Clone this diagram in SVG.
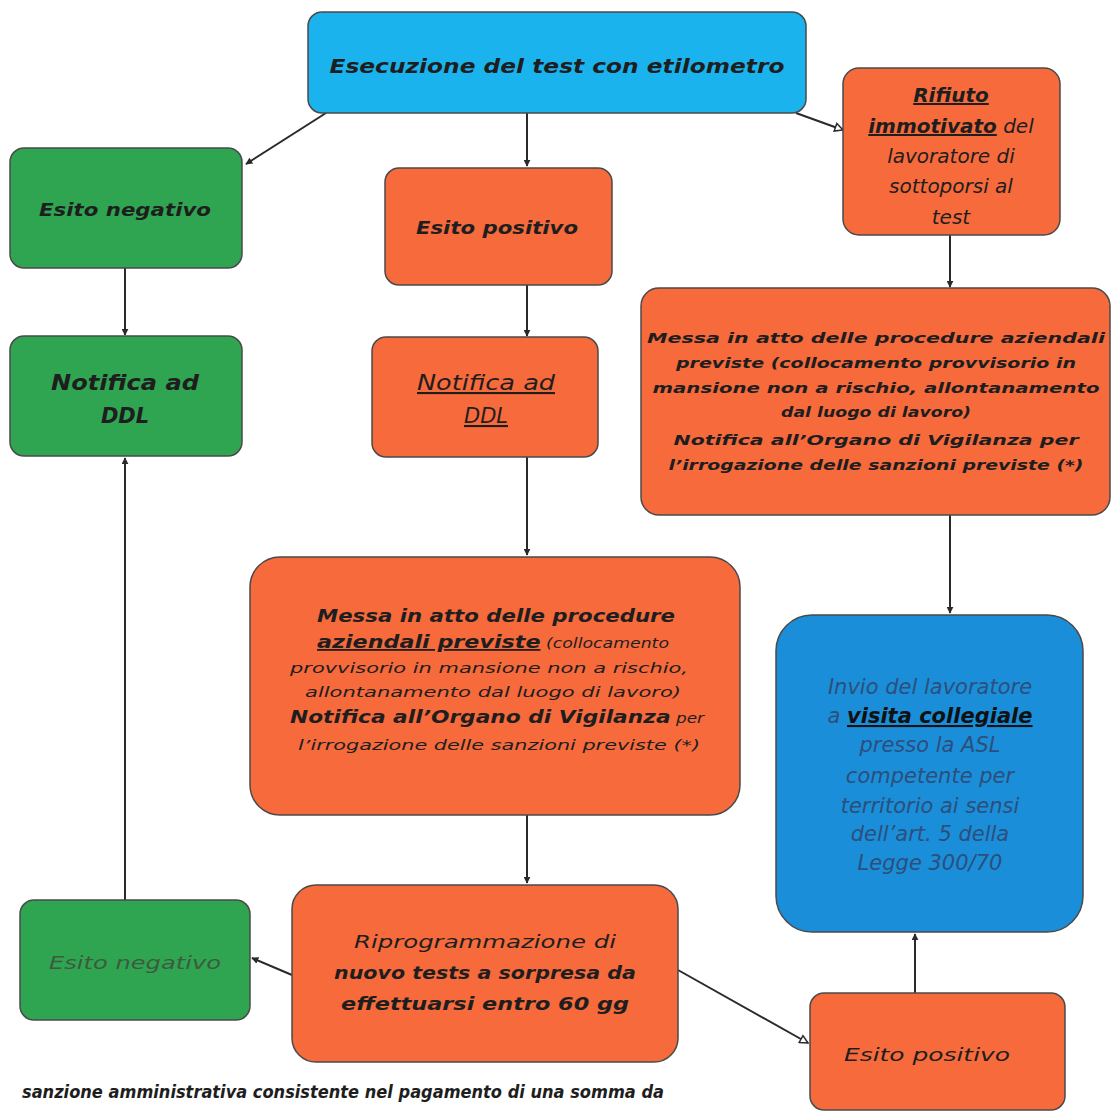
<svg xmlns="http://www.w3.org/2000/svg" width="1119" height="1113" viewBox="0 0 1119 1113">
<defs>
<style>
.n{stroke:#4a4a4a;stroke-width:1.5}
.or{fill:#f66a3c}
.gr{fill:#2fa552}
.bl{fill:#1ab3ee}
.bd{fill:#1a8ed8}
text{font-family:"DejaVu Sans","Liberation Sans",sans-serif;font-style:italic;text-anchor:middle;fill:#1e1e1e}
.b{font-weight:bold}
.u{text-decoration:underline}
.c{stroke:#2a2a2a;stroke-width:2;fill:none}
</style>
<marker id="af" viewBox="0 0 10 10" refX="9" refY="5" markerWidth="7" markerHeight="7" orient="auto" markerUnits="userSpaceOnUse">
<path d="M0,0 L10,5 L0,10 z" fill="#2a2a2a"/>
</marker>
<marker id="ao" viewBox="0 0 10 10" refX="9" refY="5" markerWidth="10" markerHeight="10" orient="auto" markerUnits="userSpaceOnUse">
<path d="M1,1 L9,5 L1,9 z" fill="#fff" stroke="#2a2a2a" stroke-width="1.5"/>
</marker>
</defs>
<rect width="1119" height="1113" fill="#fff"/>

<g id="connectors">
<line class="c" x1="326" y1="113" x2="246" y2="164" marker-end="url(#af)"/>
<line class="c" x1="527" y1="113" x2="527" y2="166" marker-end="url(#af)"/>
<line class="c" x1="796" y1="113" x2="843" y2="130" marker-end="url(#ao)"/>
<line class="c" x1="125" y1="268" x2="125" y2="335" marker-end="url(#af)"/>
<line class="c" x1="527" y1="285" x2="527" y2="336" marker-end="url(#af)"/>
<line class="c" x1="527" y1="457" x2="527" y2="555" marker-end="url(#af)"/>
<line class="c" x1="950" y1="235" x2="950" y2="287" marker-end="url(#af)"/>
<line class="c" x1="950" y1="515" x2="950" y2="613" marker-end="url(#af)"/>
<line class="c" x1="527" y1="815" x2="527" y2="883" marker-end="url(#af)"/>
<line class="c" x1="292" y1="975" x2="252" y2="958" marker-end="url(#af)"/>
<line class="c" x1="678" y1="970" x2="808" y2="1043" marker-end="url(#ao)"/>
<line class="c" x1="915" y1="993" x2="915" y2="934" marker-end="url(#af)"/>
<line class="c" x1="125" y1="900" x2="125" y2="458" marker-end="url(#af)"/>
</g>

<g id="n-test">
<rect class="n bl" x="308" y="12" width="498" height="101" rx="14"/>
<text x="557" y="73" font-size="20" class="b" textLength="455" lengthAdjust="spacingAndGlyphs">Esecuzione del test con etilometro</text>
</g>

<g id="n-neg1">
<rect class="n gr" x="10" y="148" width="232" height="120" rx="14"/>
<text x="125" y="216" font-size="18" class="b" textLength="172" lengthAdjust="spacingAndGlyphs">Esito negativo</text>
</g>

<g id="n-notg">
<rect class="n gr" x="10" y="336" width="232" height="120" rx="14"/>
<text x="125" y="390" font-size="21" class="b" textLength="148" lengthAdjust="spacingAndGlyphs">Notifica ad</text>
<text x="125" y="423" font-size="21" class="b">DDL</text>
</g>

<g id="n-pos1">
<rect class="n or" x="385" y="168" width="227" height="117" rx="14"/>
<text x="497" y="234" font-size="18" class="b" textLength="162" lengthAdjust="spacingAndGlyphs">Esito positivo</text>
</g>

<g id="n-noto">
<rect class="n or" x="372" y="337" width="226" height="120" rx="14"/>
<text x="486" y="390" font-size="21" class="u" textLength="138" lengthAdjust="spacingAndGlyphs">Notifica ad</text>
<text x="486" y="423" font-size="21" class="u">DDL</text>
</g>

<g id="n-rif">
<rect class="n or" x="843" y="68" width="217" height="167" rx="16"/>
<text x="951" y="102" font-size="20"><tspan class="b u">Rifiuto</tspan></text>
<text x="951" y="133" font-size="20"><tspan class="b u">immotivato</tspan> del</text>
<text x="951" y="163" font-size="20">lavoratore di</text>
<text x="951" y="193" font-size="20">sottoporsi al</text>
<text x="951" y="224" font-size="20">test</text>
</g>

<g id="n-messa2">
<rect class="n or" x="641" y="288" width="469" height="227" rx="18"/>
<g font-size="14" class="b">
<text x="876" y="343" textLength="458" lengthAdjust="spacingAndGlyphs">Messa in atto delle procedure aziendali</text>
<text x="876" y="368" textLength="400" lengthAdjust="spacingAndGlyphs">previste (collocamento provvisorio in</text>
<text x="876" y="393" textLength="447" lengthAdjust="spacingAndGlyphs">mansione non a rischio, allontanamento</text>
<text x="876" y="417" textLength="190" lengthAdjust="spacingAndGlyphs">dal luogo di lavoro)</text>
<text x="876" y="445" textLength="405" lengthAdjust="spacingAndGlyphs">Notifica all’Organo di Vigilanza per</text>
<text x="876" y="470" textLength="415" lengthAdjust="spacingAndGlyphs">l’irrogazione delle sanzioni previste (*)</text>
</g>
</g>

<g id="n-messa1">
<rect class="n or" x="250" y="557" width="490" height="258" rx="30"/>
<text x="496" y="622" font-size="18" class="b" textLength="358" lengthAdjust="spacingAndGlyphs">Messa in atto delle procedure</text>
<text x="493" y="648" font-size="18" textLength="352" lengthAdjust="spacingAndGlyphs"><tspan class="b u">aziendali previste</tspan><tspan font-size="14"> (collocamento</tspan></text>
<text x="489" y="673" font-size="14" textLength="398" lengthAdjust="spacingAndGlyphs">provvisorio in mansione non a rischio,</text>
<text x="493" y="697" font-size="14" textLength="376" lengthAdjust="spacingAndGlyphs">allontanamento dal luogo di lavoro)</text>
<text x="497" y="723" font-size="18" textLength="414" lengthAdjust="spacingAndGlyphs"><tspan class="b">Notifica all’Organo di Vigilanza</tspan><tspan font-size="14"> per</tspan></text>
<text x="499" y="750" font-size="14" textLength="402" lengthAdjust="spacingAndGlyphs">l’irrogazione delle sanzioni previste (*)</text>
</g>

<g id="n-invio">
<rect class="n bd" x="776" y="615" width="307" height="317" rx="36"/>
<g font-size="21">
<text x="930" y="694" style="fill:#2c4f7c">Invio del lavoratore</text>
<text x="930" y="723" style="fill:#2c4f7c">a <tspan class="b u" style="fill:#111">visita collegiale</tspan></text>
<text x="930" y="752" style="fill:#2c4f7c">presso la ASL</text>
<text x="930" y="783" style="fill:#2c4f7c">competente per</text>
<text x="930" y="813" style="fill:#2c4f7c">territorio ai sensi</text>
<text x="930" y="841" style="fill:#2c4f7c">dell’art. 5 della</text>
<text x="930" y="870" style="fill:#2c4f7c">Legge 300/70</text>
</g>
</g>

<g id="n-neg2">
<rect class="n gr" x="20" y="900" width="230" height="120" rx="14"/>
<text x="135" y="969" font-size="17" style="fill:#3d5a3f" textLength="172" lengthAdjust="spacingAndGlyphs">Esito negativo</text>
</g>

<g id="n-riprog">
<rect class="n or" x="292" y="885" width="386" height="177" rx="24"/>
<text x="485" y="948" font-size="18" textLength="262" lengthAdjust="spacingAndGlyphs">Riprogrammazione di</text>
<text x="485" y="979" font-size="18" class="b" textLength="302" lengthAdjust="spacingAndGlyphs">nuovo tests a sorpresa da</text>
<text x="485" y="1010" font-size="18" class="b" textLength="288" lengthAdjust="spacingAndGlyphs">effettuarsi entro 60 gg</text>
</g>

<g id="n-pos2">
<rect class="n or" x="810" y="993" width="255" height="117" rx="14"/>
<text x="927" y="1061" font-size="18" textLength="166" lengthAdjust="spacingAndGlyphs">Esito positivo</text>
</g>

<text x="22" y="1098" font-size="18" class="b" style="text-anchor:start" textLength="642" lengthAdjust="spacingAndGlyphs">sanzione amministrativa consistente nel pagamento di una somma da</text>
</svg>
